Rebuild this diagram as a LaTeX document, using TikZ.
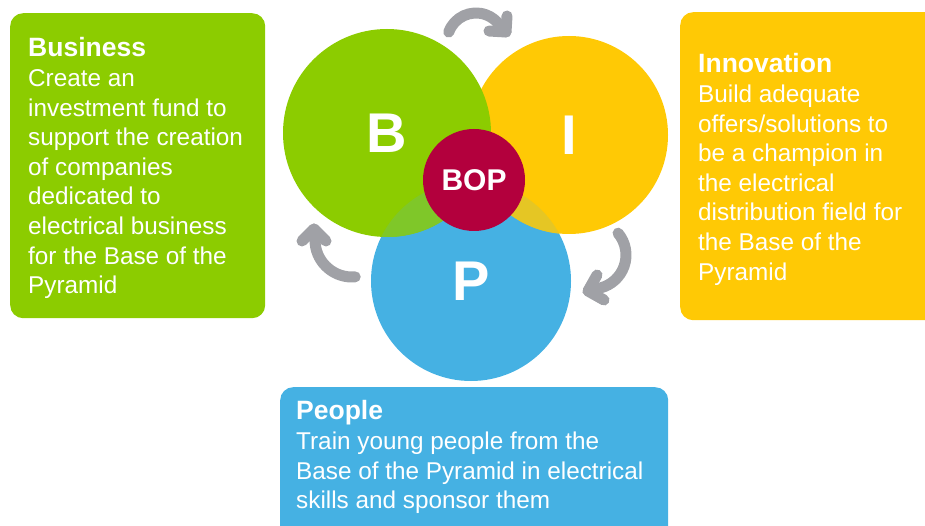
\documentclass[tikz,border=0pt]{standalone}
\usepackage{fontspec}
\setmainfont{Liberation Sans}
\usetikzlibrary{positioning,calc}
\definecolor{bopgreen}{HTML}{8CCC00}
\definecolor{bopyellow}{HTML}{FFC905}
\definecolor{bopblue}{HTML}{45B1E3}
\definecolor{bopred}{HTML}{B3003D}
\definecolor{arrowgray}{HTML}{A0A1A6}
\newcommand{\panelhead}[1]{{\fontsize{26.5}{29.6}\selectfont\bfseries #1}}

\begin{document}
\begin{tikzpicture}[x=1pt, y=1pt,
    panel/.style={rounded corners=13pt, inner sep=0pt, anchor=north west},
    paneltext/.style={anchor=north west, inner sep=0pt, align=left, text=white,
      font=\fontsize{24.3}{29.6}\selectfont},
    disc/.style={circle, inner sep=0pt, text=white,
      font=\fontsize{56}{56}\selectfont\bfseries},
    cyclearrow/.style={draw=arrowgray, line width=11pt, line cap=round, line join=round}]
  % Canvas
  \clip (0,0) rectangle (925,525);

  % Panels
  \node[panel, fill=bopgreen, minimum width=255pt, minimum height=305pt] (busbox) at (10,512) {};
  \node[panel, fill=bopyellow, minimum width=260pt, minimum height=308pt] (innbox) at (680,513) {};
  \node[panel, fill=bopblue, minimum width=388pt, minimum height=160pt] (pplbox) at (280,138) {};

  \node[paneltext] (bustext) at ([xshift=18pt, yshift=-23pt]busbox.north west)
    {\strut\panelhead{Business}\\Create an\\investment fund to\\support the creation\\of companies\\dedicated to\\electrical business\\for the Base of the\\Pyramid};
  \node[paneltext] (inntext) at ([xshift=18pt, yshift=-40pt]innbox.north west)
    {\strut\panelhead{Innovation}\\Build adequate\\offers/solutions to\\be a champion in\\the electrical\\distribution field for\\the Base of the\\Pyramid};
  \node[paneltext] (ppltext) at ([xshift=16pt, yshift=-12pt]pplbox.north west)
    {\strut\panelhead{People}\\Train young people from the\\Base of the Pyramid in electrical\\skills and sponsor them};

  % Circles
  \node[disc, fill=bopblue, minimum size=200pt] (P) at (471,244) {P};
  \node[disc, fill=bopyellow, minimum size=198pt] (I) at (569,390) {I};
  \node[disc, fill=bopgreen, minimum size=208pt] (B) at (387,392) {B};

  % Overlaps with the P circle
  \begin{scope}
    \clip (P.center) circle (100);
    \fill[bopyellow!86!bopblue] (I.center) circle (99);
    \fill[bopgreen!82!bopblue] (B.center) circle (104);
  \end{scope}

  \node[disc, fill=bopred, minimum size=102pt, font=\fontsize{30}{30}\selectfont\bfseries] (bop) at (474,345) {BOP};

  % Cycle arrows
  \draw[cyclearrow] (476,483) ++(160:29) arc[start angle=160, end angle=35, radius=29] -- (506,493);
  \draw[cyclearrow] (489,494) -- (506,493) -- (507,509);
  \draw[cyclearrow] (592,270) ++(40:34) arc[start angle=40, end angle=-75, radius=34] -- (588,234);
  \draw[cyclearrow] (597,250) -- (588,234) -- (604,225);
  \draw[cyclearrow] (352,285) ++(275:37) arc[start angle=275, end angle=185, radius=37] -- (314,296);
  \draw[cyclearrow] (302,284) -- (314,296) -- (326,284);
\end{tikzpicture}
\end{document}
